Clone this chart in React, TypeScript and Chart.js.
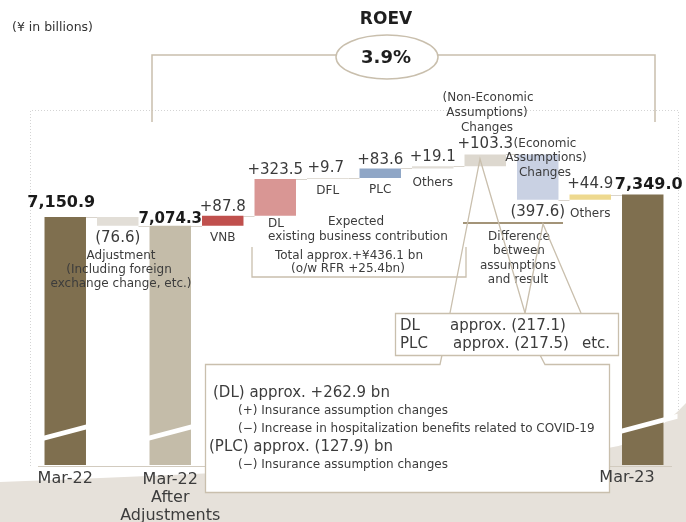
import React, { useEffect, useRef } from "react";
import { Chart, registerables } from "chart.js";

Chart.register(...registerables);

// ---------- data ----------
const categories = [
  "Mar-22",
  "Adjustment",
  "Mar-22 After Adjustments",
  "VNB",
  "DL",
  "DFL",
  "PLC",
  "Others",
  "Non-Economic Assumptions Changes",
  "Economic Assumptions Changes",
  "Others",
  "Mar-23",
];
const barValues = [7150.9, -76.6, 7074.3, 87.8, 323.5, 9.7, 83.6, 19.1, 103.3, -397.6, 44.9, 7349.0];
const totalFlags = [true, false, true, false, false, false, false, false, false, false, false, true];
const valueLabels = ["7,150.9", "(76.6)", "7,074.3", "+87.8", "+323.5", "+9.7", "+83.6", "+19.1", "+103.3", "(397.6)", "+44.9", "7,349.0"];
const barColors = ["#7f6f4f", "#e2ded7", "#c4bca9", "#c0504d", "#d99694", "#e2ded7", "#8fa6c6", "#e2ded7", "#ddd8cf", "#c9d1e3", "#eed98f", "#7f6f4f"];
const axisMin = 4968;
const axisMax = 8181;
const roevValue = "3.9%";
const unitNote = "(¥ in billions)";
const diffBoxLines = [
  ["DL", "approx. (217.1)", ""],
  ["PLC", "approx. (217.5)", "etc."],
];
const detailLines = [
  "(DL) approx. +262.9 bn",
  "(+) Insurance assumption changes",
  "(−) Increase in hospitalization benefits related to COVID-19",
  "(PLC) approx. (127.9) bn",
  "(−) Insurance assumption changes",
];

// ---------- helpers ----------
const FONT = '"DejaVu Sans", Verdana, sans-serif';
const LINE = "#c9bfad";
const TXT = "#3c3c3c";

function buildFloating(): number[][] {
  let run = 0;
  return barValues.map((v, i) => {
    if (totalFlags[i]) {
      run = v;
      return [0, v];
    }
    const s = run;
    run = run + v;
    return [s, run];
  });
}

function txt(ctx: CanvasRenderingContext2D, s: string, x: number, y: number, size: number, opts: any = {}) {
  ctx.save();
  ctx.font = `${opts.bold ? "bold " : ""}${size}px ${FONT}`;
  ctx.fillStyle = opts.color || TXT;
  ctx.textAlign = opts.align || "center";
  ctx.textBaseline = "middle";
  ctx.fillText(s, x, y);
  ctx.restore();
}

function poly(ctx: CanvasRenderingContext2D, pts: number[][], color = LINE, w = 1.3) {
  ctx.save();
  ctx.strokeStyle = color;
  ctx.lineWidth = w;
  ctx.beginPath();
  pts.forEach((p, i) => (i === 0 ? ctx.moveTo(p[0], p[1]) : ctx.lineTo(p[0], p[1])));
  ctx.stroke();
  ctx.restore();
}

const decoPlugin = {
  id: "deco",
  beforeDraw(chart: any) {
    const ctx: CanvasRenderingContext2D = chart.ctx;
    ctx.save();
    // beige background sweep
    ctx.fillStyle = "#e6e1da";
    ctx.beginPath();
    ctx.moveTo(0, 482);
    ctx.quadraticCurveTo(420, 466, 608, 448);
    ctx.quadraticCurveTo(650, 442, 686, 403);
    ctx.lineTo(686, 522);
    ctx.lineTo(0, 522);
    ctx.closePath();
    ctx.fill();
    // dotted frame
    ctx.strokeStyle = "#d4d4d4";
    ctx.lineWidth = 1;
    ctx.setLineDash([1, 2]);
    ctx.beginPath();
    ctx.moveTo(30.5, 466);
    ctx.lineTo(30.5, 110.5);
    ctx.lineTo(678.5, 110.5);
    ctx.lineTo(678.5, 410);
    ctx.stroke();
    ctx.setLineDash([]);
    ctx.restore();

    // ROEV bracket
    poly(ctx, [[152, 122], [152, 55], [336, 55]], LINE, 1.5);
    poly(ctx, [[438, 55], [655, 55], [655, 122]], LINE, 1.5);
    ctx.save();
    ctx.fillStyle = "#ffffff";
    ctx.strokeStyle = LINE;
    ctx.lineWidth = 1.5;
    ctx.beginPath();
    ctx.ellipse(387, 57, 51, 22, 0, 0, Math.PI * 2);
    ctx.fill();
    ctx.stroke();
    ctx.restore();
    txt(ctx, "ROEV", 386, 20, 17, { bold: true, color: "#1e1e1e" });
    txt(ctx, roevValue, 386, 58, 18, { bold: true, color: "#1e1e1e" });
    txt(ctx, unitNote, 12, 28, 12.5, { align: "left", color: "#333" });
  },
  beforeDatasetsDraw(chart: any) {
    const ctx: CanvasRenderingContext2D = chart.ctx;
    const meta = chart.getDatasetMeta(0);
    const y = chart.scales.y;
    const floating = buildFloating();
    // connectors
    ctx.save();
    ctx.strokeStyle = "#d9d4cc";
    ctx.lineWidth = 1;
    for (let i = 0; i < floating.length - 1; i++) {
      const a = meta.data[i];
      const b = meta.data[i + 1];
      const level = floating[i][1];
      const py = Math.round(y.getPixelForValue(level)) + 0.5;
      ctx.beginPath();
      ctx.moveTo(a.x + a.width / 2, py);
      ctx.lineTo(b.x - b.width / 2, py);
      ctx.stroke();
    }
    // axis line
    ctx.strokeStyle = "#d2cbbf";
    ctx.beginPath();
    ctx.moveTo(38, 466.5);
    ctx.lineTo(672, 466.5);
    ctx.stroke();
    ctx.restore();
  },
  afterDatasetsDraw(chart: any) {
    const ctx: CanvasRenderingContext2D = chart.ctx;
    const meta = chart.getDatasetMeta(0);
    const cx = (i: number) => meta.data[i].x;

    // axis-break slashes on total bars
    const slash = (i: number, yl: number, ext: number) => {
      const el = meta.data[i];
      const w = el.width;
      const l = el.x - w / 2 - ext;
      const r = el.x + w / 2 + ext;
      const slope = 11 / w;
      const yL = yl + slope * ext;
      const yR = yl - 11 - slope * ext;
      ctx.save();
      ctx.fillStyle = "#ffffff";
      ctx.beginPath();
      ctx.moveTo(l, yL - 2.5);
      ctx.lineTo(r, yR - 2.5);
      ctx.lineTo(r, yR + 2.5);
      ctx.lineTo(l, yL + 2.5);
      ctx.closePath();
      ctx.fill();
      ctx.restore();
    };
    slash(0, 438, 2);
    slash(2, 438, 2);
    slash(11, 431, 14);

    // value labels
    const ly = [203, 238, 219, 207, 170, 168, 160, 157, 144, 212, 184, 185];
    const lx = [-4, 0, 0, 0, 0, -2, 0, 0, 0, 0, 0, 6];
    valueLabels.forEach((s, i) => {
      const bold = totalFlags[i];
      txt(ctx, s, cx(i) + lx[i], ly[i], bold ? (i === 2 ? 15 : 16) : 15, {
        bold,
        color: bold ? "#1a1a1a" : "#3a3a3a",
      });
    });

    // category labels
    const s = 12;
    txt(ctx, "Adjustment", 121, 256, s);
    txt(ctx, "(Including foreign", 119, 270, s);
    txt(ctx, "exchange change, etc.)", 121, 284, s);
    txt(ctx, categories[3], cx(3), 238, s);
    txt(ctx, categories[5], cx(5), 191, s);
    txt(ctx, categories[6], cx(6), 190, s);
    txt(ctx, categories[7], cx(7), 183, s);
    txt(ctx, "(Non-Economic", 488, 98, s);
    txt(ctx, "Assumptions)", 487, 113, s);
    txt(ctx, "Changes", 487, 128, s);
    txt(ctx, "(Economic", 545, 144, s);
    txt(ctx, "Assumptions)", 546, 158, s);
    txt(ctx, "Changes", 545, 173, s);
    txt(ctx, categories[10], cx(10), 214, s);
    txt(ctx, "Expected", 356, 222, s);
    txt(ctx, "DL", 268, 224, s, { align: "left" });
    txt(ctx, "existing business contribution", 268, 237, s, { align: "left" });
    txt(ctx, "Total approx.+¥436.1 bn", 349, 256, s);
    txt(ctx, "(o/w RFR +25.4bn)", 348, 269, s);
    poly(ctx, [[252, 247], [252, 277], [466, 277], [466, 247]], LINE, 1.3);

    // difference block
    poly(ctx, [[463, 223], [563, 223]], "#a39478", 2);
    txt(ctx, "Difference", 519, 237, s);
    txt(ctx, "between", 519, 251, s);
    txt(ctx, "assumptions", 518, 266, s);
    txt(ctx, "and result", 518, 280, s);
    poly(ctx, [[450, 313], [480, 159], [525, 313]]);
    poly(ctx, [[525, 313], [543, 224], [581, 313]]);

    // detail box (callout)
    ctx.save();
    ctx.fillStyle = "#ffffff";
    ctx.strokeStyle = LINE;
    ctx.lineWidth = 1.3;
    ctx.beginPath();
    ctx.moveTo(205.5, 364.5);
    ctx.lineTo(440, 364.5);
    ctx.lineTo(442, 355);
    ctx.lineTo(540, 355);
    ctx.lineTo(545, 364.5);
    ctx.lineTo(609.5, 364.5);
    ctx.lineTo(609.5, 492.5);
    ctx.lineTo(205.5, 492.5);
    ctx.closePath();
    ctx.fill();
    ctx.stroke();
    // difference box
    ctx.beginPath();
    ctx.rect(395.5, 313.5, 223, 42);
    ctx.fill();
    ctx.stroke();
    ctx.restore();

    txt(ctx, diffBoxLines[0][0], 400, 326, 15, { align: "left" });
    txt(ctx, diffBoxLines[0][1], 450, 326, 15, { align: "left" });
    txt(ctx, diffBoxLines[1][0], 400, 344, 15, { align: "left" });
    txt(ctx, diffBoxLines[1][1], 453, 344, 15, { align: "left" });
    txt(ctx, diffBoxLines[1][2], 582, 344, 15, { align: "left" });

    txt(ctx, detailLines[0], 213, 393, 15, { align: "left" });
    txt(ctx, detailLines[1], 238, 411, 12, { align: "left" });
    txt(ctx, detailLines[2], 238, 429, 12, { align: "left" });
    txt(ctx, detailLines[3], 209, 447, 15, { align: "left" });
    txt(ctx, detailLines[4], 238, 465, 12, { align: "left" });

    // axis labels
    txt(ctx, categories[0], cx(0), 479, 16);
    txt(ctx, "Mar-22", cx(2), 480, 16);
    txt(ctx, "After", cx(2), 498, 16);
    txt(ctx, "Adjustments", cx(2), 516, 16);
    txt(ctx, categories[11], 627, 478, 16);
  },
};

export default function App() {
  const ref = useRef<HTMLCanvasElement | null>(null);
  useEffect(() => {
    if (!ref.current) return;
    const chart = new Chart(ref.current, {
      type: "bar",
      data: {
        labels: categories,
        datasets: [
          {
            data: buildFloating() as any,
            backgroundColor: barColors,
            borderWidth: 0,
            barPercentage: 0.79,
            categoryPercentage: 1,
          },
        ],
      },
      options: {
        responsive: false,
        animation: false,
        devicePixelRatio: 1,
        layout: { padding: { left: 39, right: 17, top: 100, bottom: 57 } },
        plugins: { legend: { display: false }, tooltip: { enabled: false } },
        scales: {
          x: { display: false, offset: true },
          y: { display: false, min: axisMin, max: axisMax },
        },
      },
      plugins: [decoPlugin as any],
    });
    return () => chart.destroy();
  }, []);
  return (
    <div style={{ position: "fixed", left: 0, top: 0, width: 686, height: 522, background: "#fff" }}>
      <canvas ref={ref} width={686} height={522} style={{ display: "block" }} />
    </div>
  );
}
